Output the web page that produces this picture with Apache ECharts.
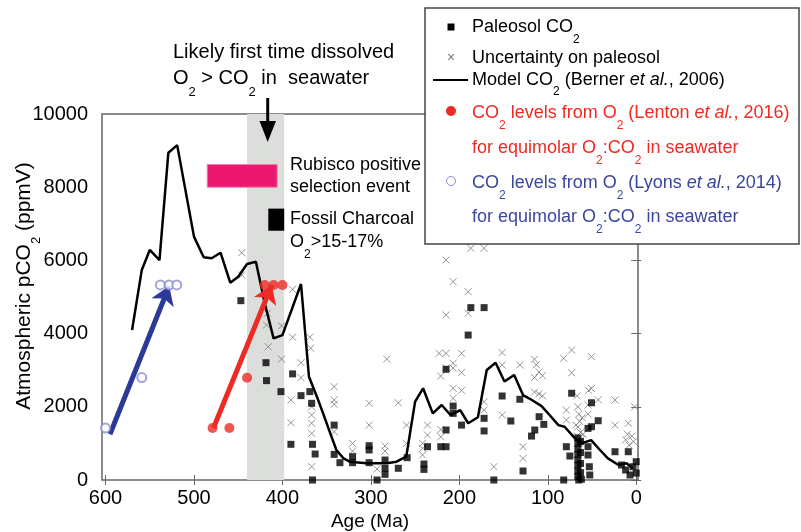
<!DOCTYPE html>
<html>
<head>
<meta charset="utf-8">
<script src="https://cdn.jsdelivr.net/npm/echarts@6/dist/echarts.min.js"></script>
<style>
  html, body { margin: 0; padding: 0; background: #fff; }
  #chart { width: 801px; height: 532px; }
</style>
</head>
<body>
<div id="chart"></div>
<script>
// tick labels
const ageTicks = [0, 100, 200, 300, 400, 500, 600];
const co2Ticks = [0, 2000, 4000, 6000, 8000, 10000];

// Berner et al. 2006 model curve
const modelAge = [570, 559, 550, 539, 529, 519, 500, 489, 480, 470, 459, 450, 440, 430, 420, 410, 400, 379, 370, 361, 354, 346, 339, 331, 324, 305, 282, 271, 260, 250, 241, 230, 220, 210, 199, 190, 179, 169, 159, 149, 138, 128, 118, 107, 98, 88, 81, 71, 62, 51, 41, 32, 20, 11, 4];
const modelCO2 = [4100, 5740, 6285, 6010, 8940, 9150, 6650, 6085, 6060, 6210, 5390, 5555, 5900, 5965, 4830, 3870, 3960, 5355, 2820, 2275, 1820, 1280, 820, 590, 500, 455, 455, 500, 640, 2140, 2505, 1820, 2050, 1775, 1910, 1550, 1713, 3005, 3205, 2690, 2870, 2320, 2185, 2020, 1775, 1500, 1456, 1183, 1000, 1090, 820, 590, 410, 455, 320];

// paleosol CO2 [age, ppmV]
const paleosol = [
  [447, 4900], [418.6, 3205], [418, 2715], [401.7, 2415], [388.5, 2900], [379, 2305], [369, 2415], [367, 2095],
  [390.4, 975], [366, 975], [363, 710], [366, 0], [341.5, 1500], [341.5, 700], [335, 473], [320.7, 637], [320.7, 473],
  [302, 937], [302, 820], [302, 473], [293, 0], [284, 546], [284, 320], [284, 155], [269, 320], [259, 610],
  [240, 437], [240, 290], [236, 910], [221, 910], [215, 910], [215, 1366], [215, 3025], [207, 2020], [207, 1820],
  [197.5, 1500], [190, 3960], [187, 4710], [172, 4710], [172, 1685], [172, 1340], [161, 0], [151.6, 2295],
  [141.8, 1612], [131.6, 2205], [128, 246], [118.4, 1200], [114.7, 1366], [109.8, 1730], [104.5, 1520],
  [82, 0], [79, 910], [75, 655], [73, 2370],
  [66, 100], [66, 250], [66, 400], [66, 550], [66, 700], [66, 850], [66, 1000], [66, 1150],
  [63, 200], [63, 450], [63, 750], [63, 1050], [65, 0], [62, 20],
  [54.5, 1410], [54.5, 910], [54.5, 683], [53, 363], [50.6, 2110], [50.6, 1456], [52.5, 137], [43, 1620],
  [24, 773], [16.7, 410], [9, 773], [12, 273], [7, 137], [3.6, 363], [0, 500], [0, 190]
];

// uncertainty on paleosol [age, ppmV]
const uncertainty = [
  [446, 6210], [446, 5600], [417, 4555], [418, 4235], [416, 3640], [401, 4210], [401, 3305],
  [388.5, 5210], [388.5, 3900], [369, 3900], [368, 3600], [379, 3205], [379, 2795], [390.4, 2185], [390.4, 1565],
  [367, 2000], [367, 1775], [367, 1550], [367, 1275], [367, 363], [341.5, 2550], [341.5, 2190], [341.5, 2070],
  [341.5, 1320], [320.7, 1000], [320.7, 790], [302, 2095], [302, 1500], [293, 300], [284, 930], [284, 790],
  [282, 3305], [269, 2110], [259.7, 1500], [259.7, 1000], [241.6, 1000], [241.6, 865], [241.6, 683],
  [236, 1500], [236, 1230], [222.8, 3460], [221, 2840], [221, 1180], [221, 1380], [215, 6010], [215, 4510],
  [215, 3460], [215, 3060], [207, 3190], [207, 3060], [207, 5420], [207, 2505], [207, 2230], [197.5, 3460],
  [197.5, 2940], [197.5, 2450], [190, 5145], [190, 4555], [187, 6330], [172, 6330], [172, 2140], [172, 1910],
  [161, 363], [151.6, 3480], [151.6, 3140], [151.6, 1775], [131.6, 3140], [128, 910], [128, 590],
  [115, 3300], [115, 2800], [113, 3150], [110, 2950], [106, 2850], [115, 2400], [110, 2350], [106, 2300],
  [82, 3325], [73, 3550], [73, 2930], [79, 1910], [79, 1640],
  [67, 2300], [66, 2000], [65, 1800], [64, 1600], [66, 1450], [63, 1300], [67, 1200], [62, 1100],
  [65, 1000], [68, 1500], [61, 1700], [60, 1250],
  [54, 2450], [50.6, 2500], [50.6, 3370], [54.5, 2050], [54.5, 1800], [43, 2190], [24, 2185], [24, 1500],
  [9, 1550], [1.7, 2000], [12, 1100], [8, 950], [5, 1200], [3, 1050], [10, 1250]
];

// CO2 from O2 for equimolar O2:CO2 in seawater
const lenton = [[479, 1420], [460, 1420], [440, 2795], [420, 5330], [410, 5330], [400, 5330]];
const lyons = [[600, 1420], [559, 2800], [538, 5330], [528, 5330], [519.5, 5330]];
const lentonArrow = [[478, 1420], [412, 5330]];
const lyonsArrow = [[595, 1250], [528, 5300]];

// shaded events
const o2Band = [440, 398];
const rubisco = [[485, 8000], [406, 8620]];
const charcoal = [[416, 6810], [398, 7415]];

const RED = '#ee2a24';
const BLUE = '#3a47a0';
const FONT = 'Liberation Sans, Arial, sans-serif';

const myChart = echarts.init(document.getElementById('chart'));

function subRich(color, size, subSize, shift) {
    return {
        a: { fontSize: size, color: color, fontFamily: FONT },
        i: { fontSize: size, color: color, fontFamily: FONT, fontStyle: 'italic' },
        s: { fontSize: subSize, color: color, fontFamily: FONT, padding: [shift * 2, 0, 0, 0] }
    };
}

function label(x, y, text, color, size, subSize, shift) {
    return {
        type: 'text', x: x, y: y, z: 120,
        style: {
            text: text, rich: subRich(color, size, subSize, shift),
            verticalAlign: 'middle', align: 'left', fill: color,
            fontSize: size, fontFamily: FONT
        }
    };
}

const legendX = 472;
const graphics = [
    // legend box
    { type: 'rect', x: 425, y: 8, z: 110, shape: { width: 374, height: 236 },
      style: { fill: '#fff', stroke: '#444', lineWidth: 1.5 } },
    { type: 'rect', x: 447.5, y: 23.5, z: 120, shape: { width: 7, height: 7 }, style: { fill: '#000' } },
    { type: 'text', x: 451, y: 58, z: 120,
      style: { text: '×', fill: '#777', fontSize: 14, align: 'center', verticalAlign: 'middle', fontFamily: FONT } },
    { type: 'line', z: 120, shape: { x1: 433, y1: 80, x2: 468, y2: 80 }, style: { stroke: '#000', lineWidth: 2 } },
    { type: 'circle', z: 120, shape: { cx: 451, cy: 111, r: 5 }, style: { fill: RED } },
    { type: 'circle', z: 120, shape: { cx: 451, cy: 181, r: 4.5 }, style: { fill: '#fff', stroke: '#8a8fd0', lineWidth: 1 } },
    label(legendX, 27, '{a|Paleosol CO}{s|2}', '#000', 18, 12, 13),
    label(legendX, 58, '{a|Uncertainty on paleosol}', '#000', 18, 12, 13),
    label(legendX, 80, '{a|Model CO}{s|2}{a| (Berner }{i|et al.}{a|, 2006)}', '#000', 18, 12, 12),
    label(legendX, 113, '{a|CO}{s|2}{a| levels from O}{s|2}{a| (Lenton }{i|et al.}{a|, 2016)}', RED, 18, 12, 13),
    label(legendX, 148, '{a|for equimolar O}{s|2}{a|:CO}{s|2}{a| in seawater}', RED, 18, 12, 13),
    label(legendX, 183, '{a|CO}{s|2}{a| levels from O}{s|2}{a| (Lyons }{i|et al.}{a|, 2014)}', BLUE, 18, 12, 13),
    label(legendX, 217, '{a|for equimolar O}{s|2}{a|:CO}{s|2}{a| in seawater}', BLUE, 18, 12, 13),
    // annotations
    label(173, 52, '{a|Likely first time dissolved}', '#000', 20, 13, 13),
    label(173, 78, '{a|O}{s|2}{a| > CO}{s|2}{a| in  seawater}', '#000', 20, 13, 14),
    { type: 'line', z: 120, shape: { x1: 267.7, y1: 98, x2: 267.7, y2: 124 }, style: { stroke: '#000', lineWidth: 3 } },
    { type: 'polygon', z: 120, shape: { points: [[259.5, 121], [276, 121], [267.7, 142]] }, style: { fill: '#000' } },
    label(290, 165, '{a|Rubisco positive}', '#000', 18, 12, 12),
    label(290, 187, '{a|selection event}', '#000', 18, 12, 12),
    label(290, 219, '{a|Fossil Charcoal}', '#000', 18, 12, 12),
    label(290, 242, '{a|O}{s|2}{a|>15-17%}', '#000', 18, 12, 13)
];

const crossPath = 'path://M0,0L10,10M10,0L0,10';

const option = {
    animation: false,
    backgroundColor: '#fff',
    textStyle: { fontFamily: FONT },
    grid: { left: 102, right: 163, top: 114, bottom: 52, containLabel: false, outerBoundsMode: 'none',
            show: true, borderColor: '#666', borderWidth: 1.5, backgroundColor: 'transparent' },
    xAxis: [
        {
            type: 'value', inverse: true, min: -2, max: 604, position: 'bottom',
            name: 'Age (Ma)', nameLocation: 'middle', nameGap: 32, nameMoveOverlap: false,
            nameTextStyle: { fontSize: 19, color: '#000', fontFamily: FONT },
            axisLine: { show: false }, splitLine: { show: false },
            axisTick: { inside: true, length: 5, customValues: ageTicks, lineStyle: { color: '#666' } },
            axisLabel: { customValues: ageTicks, fontSize: 20, color: '#000', margin: 8, fontFamily: FONT }
        },
        {
            type: 'value', inverse: true, min: -2, max: 604, position: 'top',
            axisLine: { show: false }, splitLine: { show: false }, axisLabel: { show: false },
            axisTick: { inside: true, length: 5, customValues: ageTicks, lineStyle: { color: '#666' } }
        }
    ],
    yAxis: [
        {
            type: 'value', min: 0, max: 10000, interval: 2000, position: 'left',
            name: '{a|Atmospheric pCO}{s|2}{a| (ppmV)}', nameLocation: 'middle', nameGap: 59, nameRotate: 90,
            nameMoveOverlap: false,
            nameTextStyle: { color: '#000', padding: [0, 0, 0, 22], rich: subRich('#000', 21, 13, 12) },
            axisLine: { show: false }, splitLine: { show: false },
            axisTick: { inside: true, length: 5, lineStyle: { color: '#666' } },
            axisLabel: { fontSize: 20, color: '#000', margin: 14, fontFamily: FONT,
                         customValues: co2Ticks, formatter: v => String(v) }
        },
        {
            type: 'value', min: 0, max: 10000, interval: 2000, position: 'right',
            axisLine: { show: false }, splitLine: { show: false }, axisLabel: { show: false },
            axisTick: { inside: true, length: 5, lineStyle: { color: '#666' } }
        }
    ],
    series: [
        {
            type: 'line', data: [], z: 0, silent: true,
            markArea: { silent: true, itemStyle: { color: '#dcdedc' },
                        data: [[{ xAxis: o2Band[0] }, { xAxis: o2Band[1] }]] }
        },
        {
            type: 'line', data: [], z: 1, silent: true,
            markArea: { silent: true, data: [
                [{ coord: rubisco[0], itemStyle: { color: '#ec1870', borderColor: '#f07aa8', borderWidth: 1 } }, { coord: rubisco[1] }],
                [{ coord: charcoal[0], itemStyle: { color: '#000' } }, { coord: charcoal[1] }]
            ] }
        },
        {
            name: 'Uncertainty on paleosol', type: 'scatter', data: uncertainty, z: 2,
            symbol: crossPath, symbolSize: 7,
            itemStyle: { color: 'transparent', borderColor: '#7a7a7a', borderWidth: 1 }
        },
        {
            name: 'Paleosol CO2', type: 'scatter', data: paleosol, z: 3,
            symbol: 'rect', symbolSize: 7, itemStyle: { color: '#000' }
        },
        {
            name: 'Model CO2', type: 'line', z: 4,
            data: modelAge.map((a, i) => [a, modelCO2[i]]),
            showSymbol: false, symbol: 'none',
            lineStyle: { color: '#000', width: 2.5 }
        },
        {
            type: 'lines', coordinateSystem: 'cartesian2d', z: 5,
            symbol: ['none', 'arrow'], symbolSize: 18,
            data: [
                { coords: lyonsArrow, lineStyle: { color: '#2b3a98', width: 5, opacity: 1 } },
                { coords: lentonArrow, lineStyle: { color: RED, width: 5, opacity: 1 } }
            ]
        },
        {
            name: 'Lenton', type: 'scatter', data: lenton, z: 6,
            symbol: 'circle', symbolSize: 10, itemStyle: { color: RED }
        },
        {
            name: 'Lyons', type: 'scatter', data: lyons, z: 6,
            symbol: 'emptyCircle', symbolSize: 9,
            itemStyle: { color: '#8a8fd0', borderWidth: 1 }
        }
    ],
    graphic: graphics
};

myChart.setOption(option);
</script>
</body>
</html>
